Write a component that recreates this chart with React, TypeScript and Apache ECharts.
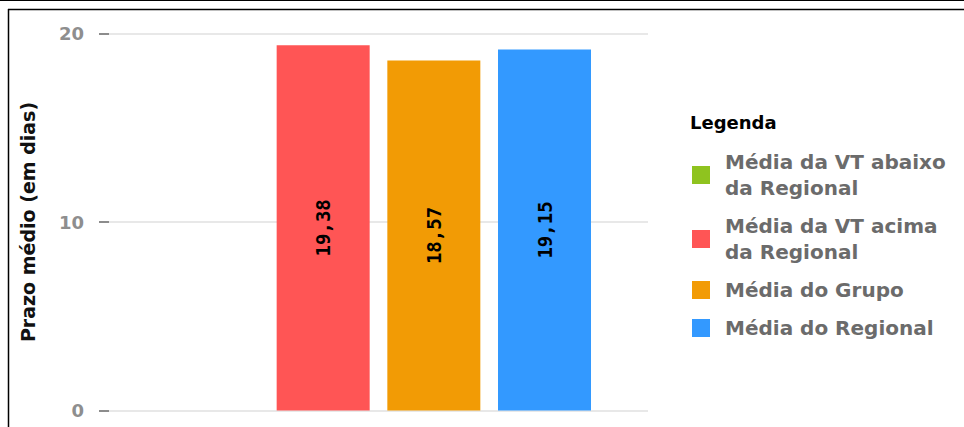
import React, { useEffect, useRef } from "react";
import * as echarts from "echarts";

const categories = [""];
const seriesNames = [
  "Média da VT abaixo\nda Regional",
  "Média da VT acima\nda Regional",
  "Média do Grupo",
  "Média do Regional",
];
const seriesValues: (number | string)[] = ["-", 19.38, 18.57, 19.15];
const seriesColors = ["#8fc31f", "#ff5555", "#f29b05", "#3399ff"];
const yTicks = { min: 0, max: 20, interval: 10 };
const axisTitle = "Prazo médio (em dias)";
const legendTitle = "Legenda";

export default function App() {
  const ref = useRef<HTMLDivElement>(null);
  useEffect(() => {
    if (!ref.current) return;
    const chart = echarts.init(ref.current, undefined, { renderer: "svg" });
    const font = "DejaVu Sans";
    chart.setOption({
      animation: false,
      backgroundColor: "#ffffff",
      title: {
        text: legendTitle,
        left: 690,
        top: 113,
        padding: 0,
        textStyle: { fontFamily: font, fontSize: 18, fontWeight: "bold", color: "#000" },
      },
      legend: {
        orient: "vertical",
        left: 692,
        top: 149,
        padding: 0,
        itemWidth: 18,
        itemHeight: 18,
        itemGap: 12,
        icon: "rect",
        selectedMode: false,
        data: seriesNames,
        textStyle: {
          fontFamily: font,
          fontSize: 20,
          fontWeight: "bold",
          color: "#6b6b6b",
          lineHeight: 26,
          padding: [0, 0, 0, 10],
        },
      },
      grid: { left: 109, right: 316, top: 33.5, bottom: 16.5 },
      xAxis: {
        type: "category",
        data: categories,
        axisLine: { show: false },
        axisTick: { show: false },
        axisLabel: { show: false },
      },
      yAxis: {
        type: "value",
        min: yTicks.min,
        max: yTicks.max,
        interval: yTicks.interval,
        name: axisTitle,
        nameLocation: "middle",
        nameGap: 72,
        nameRotate: 90,
        nameTextStyle: { fontFamily: font, fontSize: 19, fontWeight: "bold", color: "#111" },
        axisLine: { show: false },
        axisTick: { show: true, length: 10, lineStyle: { color: "#666", width: 1.5 } },
        axisLabel: {
          margin: 25,
          fontFamily: font,
          fontSize: 18,
          fontWeight: "bold",
          color: "#8e8e8e",
        },
        splitLine: { lineStyle: { color: "#e8e8e8", width: 2 } },
      },
      series: seriesNames.map((name, i) => ({
        type: "bar",
        name,
        data: [seriesValues[i]],
        barWidth: 93,
        barGap: "19%",
        itemStyle: { color: seriesColors[i] },
        label: {
          show: true,
          position: "inside",
          rotate: 90,
          fontFamily: "DejaVu Sans Mono",
          fontSize: 19,
          fontWeight: "bold",
          color: "#000",
          formatter: (p: any) =>
            typeof p.value === "number" ? p.value.toFixed(2).replace(".", ",") : "",
        },
      })),
      graphic: [
        { type: "line", shape: { x1: 0, y1: 0.5, x2: 964, y2: 0.5 }, style: { stroke: "#000", lineWidth: 1 } },
        { type: "line", shape: { x1: 8, y1: 9.5, x2: 964, y2: 9.5 }, style: { stroke: "#000", lineWidth: 1.5 } },
        { type: "line", shape: { x1: 8.5, y1: 9, x2: 8.5, y2: 427 }, style: { stroke: "#000", lineWidth: 1.5 } },
      ],
    });
    return () => chart.dispose();
  }, []);
  return (
    <div
      ref={ref}
      style={{ position: "absolute", left: 0, top: 0, width: 964, height: 427 }}
    />
  );
}
